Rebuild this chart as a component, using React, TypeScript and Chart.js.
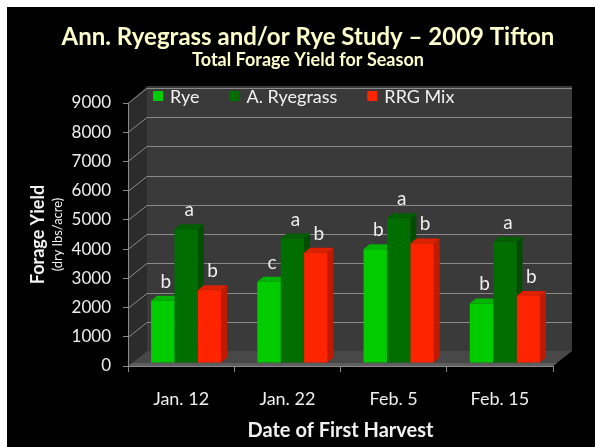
import React, { useEffect, useRef } from "react";
import { Chart, registerables } from "chart.js";

Chart.register(...registerables);

const categories = ["Jan. 12", "Jan. 22", "Feb. 5", "Feb. 15"];
const seriesNames = ["Rye", "A. Ryegrass", "RRG Mix"];
const ryeValues = [2130, 2780, 3890, 2040];
const ryegrassValues = [4580, 4260, 4950, 4150];
const rrgMixValues = [2490, 3770, 4090, 2290];
const ryeLetters = ["b", "c", "b", "b"];
const ryegrassLetters = ["a", "a", "a", "a"];
const rrgMixLetters = ["b", "b", "b", "b"];
const yTickValues = [0, 1000, 2000, 3000, 4000, 5000, 6000, 7000, 8000, 9000];

const titleText = "Ann. Ryegrass and/or Rye Study \u2013 2009 Tifton";
const subtitleText = "Total Forage Yield for Season";
const yTitle = "Forage Yield";
const yUnits = "(dry lbs/acre)";
const xTitle = "Date of First Harvest";

const FONT = "Lato, 'Open Sans', sans-serif";
const W = 588;
const H = 440;
const DX = 19; // back wall offset
const DY = -15;
const BDX = 6; // bar depth
const BDY = -5;
const SHIFT_X = 5;
const SHIFT_Y = -3;

const faceColors = [
  { front: "#00cc00", side: "#009c00", top: "#00b400" },
  { front: "#006e00", side: "#004f00", top: "#005f00" },
  { front: "#ff2400", side: "#c01a00", top: "#dd2000" },
];
const letterSets = [ryeLetters, ryegrassLetters, rrgMixLetters];

const threeD = {
  id: "threeD",
  beforeDraw(chart: any) {
    const { ctx, chartArea: a } = chart;
    const ys = chart.scales.y;
    ctx.save();
    ctx.fillStyle = "#000";
    ctx.fillRect(0, 0, chart.width, chart.height);
    const L = a.left, R = a.right, T = ys.getPixelForValue(9000), B = ys.getPixelForValue(0);
    ctx.fillStyle = "#3a3a3a";
    ctx.fillRect(L + DX, T + DY - 2, R - L, B - T + 2);
    ctx.fillStyle = "#2c2c2c";
    ctx.beginPath();
    ctx.moveTo(L, T);
    ctx.lineTo(L + DX, T + DY - 2);
    ctx.lineTo(L + DX, B + DY);
    ctx.lineTo(L, B);
    ctx.closePath();
    ctx.fill();
    ctx.fillStyle = "#484848";
    ctx.beginPath();
    ctx.moveTo(L, B);
    ctx.lineTo(R, B);
    ctx.lineTo(R + DX, B + DY);
    ctx.lineTo(L + DX, B + DY);
    ctx.closePath();
    ctx.fill();
    ctx.fillStyle = "#5e5e5e";
    ctx.beginPath();
    ctx.moveTo(L, B);
    ctx.lineTo(R, B);
    ctx.lineTo(R + 4, B - 3);
    ctx.lineTo(L + 4, B - 3);
    ctx.closePath();
    ctx.fill();
    ctx.strokeStyle = "#8a8a8a";
    ctx.lineWidth = 1;
    for (const v of yTickValues) {
      if (v === 0) continue;
      const y = Math.round(ys.getPixelForValue(v)) + 0.5;
      ctx.beginPath();
      ctx.moveTo(L, y);
      ctx.lineTo(L + DX, y + DY);
      ctx.lineTo(R + DX, y + DY);
      ctx.stroke();
    }
    ctx.restore();
  },
  beforeDatasetsDraw(chart: any) {
    const { ctx } = chart;
    ctx.save();
    ctx.translate(SHIFT_X, SHIFT_Y);
    chart.data.datasets.forEach((ds: any, di: number) => {
      const meta = chart.getDatasetMeta(di);
      const c = faceColors[di];
      meta.data.forEach((bar: any) => {
        const x0 = bar.x - bar.width / 2;
        const x1 = bar.x + bar.width / 2;
        const yt = bar.y;
        const yb = bar.base;
        ctx.fillStyle = c.side;
        ctx.beginPath();
        ctx.moveTo(x1, yt);
        ctx.lineTo(x1 + BDX, yt + BDY);
        ctx.lineTo(x1 + BDX, yb + BDY);
        ctx.lineTo(x1, yb);
        ctx.closePath();
        ctx.fill();
        ctx.fillStyle = c.top;
        ctx.beginPath();
        ctx.moveTo(x0, yt);
        ctx.lineTo(x0 + BDX, yt + BDY);
        ctx.lineTo(x1 + BDX, yt + BDY);
        ctx.lineTo(x1, yt);
        ctx.closePath();
        ctx.fill();
      });
    });
  },
  afterDatasetsDraw(chart: any) {
    const { ctx } = chart;
    ctx.fillStyle = "#eeeeee";
    ctx.font = `19px ${FONT}`;
    ctx.textAlign = "center";
    ctx.textBaseline = "alphabetic";
    chart.data.datasets.forEach((ds: any, di: number) => {
      const meta = chart.getDatasetMeta(di);
      meta.data.forEach((bar: any, i: number) => {
        ctx.fillText(letterSets[di][i], bar.x + BDX / 2, bar.y + BDY - 8);
      });
    });
    ctx.restore();
  },
  afterDraw(chart: any) {
    const { ctx, chartArea: a } = chart;
    const ys = chart.scales.y;
    ctx.save();
    const T = ys.getPixelForValue(9000) + DY;
    let x = a.left + DX + 6;
    const ly = T + 8;
    ctx.font = `18px ${FONT}`;
    ctx.textBaseline = "middle";
    ctx.textAlign = "left";
    chart.data.datasets.forEach((ds: any, di: number) => {
      ctx.fillStyle = faceColors[di].front;
      ctx.fillRect(x, ly - 5, 10, 10);
      ctx.fillStyle = "#f2f2f2";
      ctx.fillText(ds.label, x + 17, ly + 1);
      x += 17 + ctx.measureText(ds.label).width + 30;
    });
    ctx.fillStyle = "#ffffcc";
    ctx.textAlign = "center";
    ctx.textBaseline = "middle";
    ctx.font = `bold 24px ${FONT}`;
    ctx.fillText(titleText, chart.width / 2 + 7, 30);
    ctx.font = `bold 18px ${FONT}`;
    ctx.fillText(subtitleText, chart.width / 2 + 7, 53);
    ctx.fillStyle = "#f2f2f2";
    const cy = (ys.top + ys.bottom) / 2;
    ctx.translate(31, cy);
    ctx.rotate(-Math.PI / 2);
    ctx.font = `bold 18px ${FONT}`;
    ctx.fillText(yTitle, 0, 0);
    ctx.font = `13px ${FONT}`;
    ctx.fillText(yUnits, 0, 20);
    ctx.restore();
  },
};

export default function App() {
  const ref = useRef<HTMLCanvasElement>(null);
  useEffect(() => {
    const chart = new Chart(ref.current as HTMLCanvasElement, {
      type: "bar",
      data: {
        labels: categories,
        datasets: [
          { label: seriesNames[0], data: ryeValues, backgroundColor: faceColors[0].front },
          { label: seriesNames[1], data: ryegrassValues, backgroundColor: faceColors[1].front },
          { label: seriesNames[2], data: rrgMixValues, backgroundColor: faceColors[2].front },
        ],
      },
      options: {
        responsive: false,
        animation: false,
        devicePixelRatio: 1,
        layout: { padding: { top: 96, left: 0, right: 42, bottom: 0 } },
        datasets: { bar: { categoryPercentage: 0.66, barPercentage: 1, borderWidth: 0 } },
        plugins: {
          legend: { display: false },
          title: { display: false },
          tooltip: { enabled: false },
        },
        scales: {
          x: {
            afterFit: (s: any) => { s.height = 81; },
            grid: { display: true, drawOnChartArea: false, drawTicks: true, tickLength: 6, color: "#8a8a8a", offset: true },
            border: { display: true, color: "#8a8a8a" },
            ticks: { color: "#eeeeee", font: { family: FONT, size: 18 }, padding: 16 },
            title: {
              display: true,
              text: xTitle,
              color: "#f2f2f2",
              font: { family: FONT, size: 20, weight: "bold" },
              padding: { top: 4, bottom: 4 },
            },
          },
          y: {
            min: 0,
            max: 9000,
            afterFit: (s: any) => { s.width = 121; },
            afterBuildTicks: (s: any) => { s.ticks = yTickValues.map((v) => ({ value: v })); },
            grid: { display: true, drawOnChartArea: false, drawTicks: true, tickLength: 5, color: "#8a8a8a" },
            border: { display: true, color: "#8a8a8a" },
            ticks: {
              color: "#eeeeee",
              font: { family: FONT, size: 17 },
              padding: 12,
              callback: (v: any) => String(v),
            },
          },
        },
      },
      plugins: [threeD],
    });
    return () => chart.destroy();
  }, []);
  return (
    <div style={{ position: "fixed", left: 0, top: 0, width: 595, height: 447, background: "#fff" }}>
      <canvas ref={ref} width={W} height={H} style={{ position: "absolute", left: 7, top: 7, width: W, height: H }} />
    </div>
  );
}
